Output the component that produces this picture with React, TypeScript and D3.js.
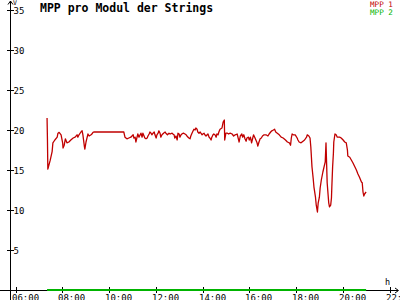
import React from "react";
import * as d3 from "d3";

const title = "MPP pro Modul der Strings";
const seriesNames = ["MPP 1", "MPP 2"];
const yTicks = [5, 10, 15, 20, 25, 30, 35];
const xTicks = ["06:00", "08:00", "10:00", "12:00", "14:00", "16:00", "18:00", "20:00", "22:00"];

const mpp1Times = [
  "07:21","07:22","07:23","07:29","07:34","07:36","07:41","07:47","07:49","07:52","07:57",
  "08:01","08:02","08:05","08:08","08:12","08:17","08:22","08:28","08:33","08:38","08:40","08:43","08:48","08:51","08:53","08:57","08:58",
  "09:01","09:04","09:06","09:09","09:14","09:16","09:19","09:21",
  "10:38","10:41","10:46","10:51","10:56",
  "11:02","11:04","11:07","11:09","11:12","11:14","11:17","11:20","11:22","11:25","11:27","11:30","11:32","11:35","11:38","11:40","11:43","11:45","11:48","11:50","11:53","11:56","11:58",
  "12:01","12:03","12:06","12:08","12:11","12:13","12:16","12:20","12:24","12:26","12:30","12:34","12:37","12:42","12:44","12:47","12:49","12:52","12:55","12:57",
  "13:00","13:02","13:05","13:07","13:11","13:15","13:18","13:20","13:23","13:25","13:28","13:30","13:33","13:36","13:38","13:41","13:43","13:46","13:48","13:51","13:54","13:56","13:59",
  "14:01","14:04","14:06","14:09","14:12","14:14","14:17","14:19","14:22","14:24","14:27","14:29","14:32","14:35","14:37","14:40","14:42","14:45","14:50","14:53","14:56","14:57",
  "15:00","15:04","15:07","15:11","15:16","15:20","15:24","15:29","15:32","15:34","15:37","15:41","15:43","15:46","15:49","15:52","15:54","15:58",
  "16:00","16:03","16:06","16:09","16:11","16:14","16:17","16:20","16:22","16:25","16:28","16:31","16:34","16:38","16:43","16:48","16:51","16:55","16:58",
  "17:02","17:05","17:08","17:12","17:17","17:22","17:27","17:33","17:38","17:43","17:46","17:48","17:50","17:53","17:58",
  "18:03","18:05","18:08","18:13","18:18","18:22","18:27","18:29","18:33","18:36","18:38","18:39","18:41","18:44","18:46","18:50","18:52","18:55","18:57",
  "19:00","19:02","19:05","19:09","19:12","19:15","19:17","19:20","19:24","19:26","19:29","19:31","19:32","19:34","19:36","19:37","19:40","19:43","19:46","19:52","19:56",
  "20:01","20:05","20:09","20:12","20:13","20:18","20:22","20:26","20:31","20:35","20:39","20:43","20:48","20:50","20:52","20:54","20:56",
  "21:00"
];
const mpp1Values = [
  21.5,18.8,15.1,16.2,17.3,18.4,18.75,19.1,19.6,19.7,19.4,
  18.4,17.75,18.1,18.9,18.4,18.5,18.75,19.0,19.1,19.4,19.1,19.4,19.75,19.9,19.4,17.9,17.6,
  18.5,19.1,19.5,19.25,19.4,19.5,19.7,19.75,
  19.75,19.1,18.9,19.0,19.1,
  19.4,19.0,19.1,18.5,19.1,19.5,19.1,19.4,19.6,19.1,19.6,19.25,19.0,18.9,19.0,19.25,19.5,19.75,19.6,19.4,19.6,19.75,19.4,
  19.0,19.4,19.6,19.9,19.6,19.1,19.4,19.6,19.75,19.6,19.4,19.6,19.5,19.6,19.5,19.4,19.0,19.25,18.75,19.6,
  19.5,19.1,19.4,19.5,19.6,19.5,19.4,19.25,19.1,19.0,18.9,19.25,19.6,19.9,20.1,20.0,20.25,20.1,19.75,19.6,19.75,19.6,19.4,
  19.5,19.6,19.4,19.25,19.4,19.5,19.1,19.0,18.75,19.1,19.4,19.5,19.4,19.1,19.5,19.4,19.75,20.1,20.25,21.0,21.25,18.75,
  19.6,19.6,19.5,19.6,19.5,19.25,19.4,19.5,18.9,18.5,19.25,19.5,19.1,19.4,18.9,18.6,19.0,19.1,
  18.75,19.1,18.4,19.0,19.4,19.1,18.75,18.4,18.0,18.5,18.9,19.0,19.25,19.4,19.4,19.25,19.5,19.75,19.9,
  20.0,20.1,19.75,19.6,19.4,19.1,19.0,18.75,18.5,18.4,18.1,19.0,19.5,19.4,19.4,
  19.0,18.75,18.5,18.4,18.6,18.75,19.1,19.4,19.25,19.0,17.9,17.1,15.4,14.0,12.9,11.6,10.6,9.75,10.9,
  11.6,12.75,13.75,14.75,15.4,16.0,18.4,13.4,10.9,10.4,10.6,11.5,12.9,15.4,17.1,18.5,19.5,19.4,19.1,19.1,19.0,
  18.75,18.5,18.4,17.5,16.75,16.6,16.25,15.9,15.4,15.0,14.5,14.1,13.5,13.4,12.25,11.75,12.0,
  12.25
];
const mpp2Times = ["07:21", "21:00"];
const mpp2Values = [0, 0];

const toHours = (t: string) => {
  const [h, m] = t.split(":").map(Number);
  return h + m / 60;
};

export default function App() {
  const W = 400, H = 300;
  const x = d3.scaleLinear().domain([6, 22]).range([15.5, 389.5]);
  const y = d3.scaleLinear().domain([0, 35]).range([290, 10]);
  const font = "'DejaVu Sans Mono', monospace";
  const red = "#c00000";
  const green = "#00b400";

  const line = d3
    .line<[number, number]>()
    .x((d) => x(d[0]))
    .y((d) => y(d[1]));

  const p1 = mpp1Times.map((t, i) => [toHours(t), mpp1Values[i]] as [number, number]);
  const p2 = mpp2Times.map((t, i) => [toHours(t), mpp2Values[i]] as [number, number]);
  const y0 = y(0);
  const ax = 10.5;

  return (
    <svg width={W} height={H} style={{ position: "absolute", left: 0, top: 0, background: "#fff" }}>
      <rect width={W} height={H} fill="#fff" />
      {/* y axis */}
      <line x1={ax} y1={1} x2={ax} y2={300} stroke="#000" strokeWidth={1} shapeRendering="crispEdges" />
      <path d={`M${ax - 2.5},4.5 L${ax},1 L${ax + 2.5},4.5`} fill="none" stroke="#000" strokeWidth={1} />
      <text x={13} y={5} fontFamily={font} fontSize={6.5} fill="#000">V</text>
      {yTicks.map((v) => (
        <g key={v}>
          <line x1={7} x2={14} y1={Math.round(y(v)) + 0.5} y2={Math.round(y(v)) + 0.5} stroke="#000" strokeWidth={1} />
          <text x={13.5} y={y(v) + 3.8} fontFamily={font} fontSize={9} fill="#000">{v}</text>
        </g>
      ))}
      {/* x axis */}
      <line x1={0} y1={y0 + 0.5} x2={398} y2={y0 + 0.5} stroke="#000" strokeWidth={1} shapeRendering="crispEdges" />
      <path d={`M395,${y0 - 2} L398.5,${y0 + 0.5} L395,${y0 + 3}`} fill="none" stroke="#000" strokeWidth={1} />
      <text x={385} y={284.5} fontFamily={font} fontSize={8.5} fill="#000">h</text>
      {xTicks.map((t) => {
        const xx = Math.round(x(toHours(t))) + 0.5;
        return (
          <g key={t}>
            <line x1={xx} x2={xx} y1={287} y2={293} stroke="#000" strokeWidth={1} />
            <text x={xx - 4.5} y={300.5} fontFamily={font} fontSize={9} fill="#000">{t}</text>
          </g>
        );
      })}
      {/* series */}
      <path d={line(p2) || ""} fill="none" stroke={green} strokeWidth={2} />
      <path d={line(p1) || ""} fill="none" stroke={red} strokeWidth={1.3} strokeLinejoin="round" />
      {/* title */}
      <text x={40} y={11.5} fontFamily={font} fontSize={11.5} fontWeight="bold" fill="#000">{title}</text>
      {/* legend */}
      <text x={370} y={7} fontFamily={font} fontSize={7.6} fill={red}>{seriesNames[0]}</text>
      <text x={370} y={15} fontFamily={font} fontSize={7.6} fill={green}>{seriesNames[1]}</text>
    </svg>
  );
}
